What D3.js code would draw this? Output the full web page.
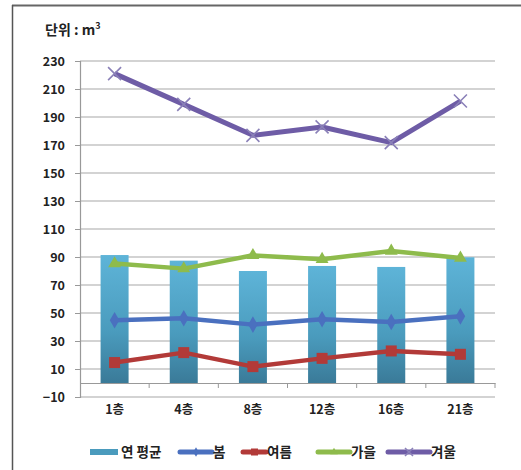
<!DOCTYPE html>
<html><head><meta charset="utf-8">
<script src="https://cdn.jsdelivr.net/npm/d3@7"></script>
<style>
body{margin:0;background:#fff;}
text{font-family:"Noto Sans CJK KR","Noto Sans",sans-serif;font-weight:700;fill:#222;}
</style></head>
<body><svg id="c" width="521" height="470"></svg>
<script>
const categories = ["1층","4층","8층","12층","16층","21층"];
const annualAvg = [91.4, 87.4, 80.0, 83.6, 82.9, 89.8];
const spring = [44.8, 46.2, 41.7, 45.5, 43.6, 47.6];
const summer = [14.6, 21.7, 11.7, 17.6, 22.9, 20.5];
const autumn = [85.3, 81.7, 91.2, 88.4, 94.3, 89.3];
const winter = [221.0, 199.0, 176.9, 182.9, 171.7, 201.4];
const yTicks = [-10,10,30,50,70,90,110,130,150,170,190,210,230];
const seriesNames = ["연 평균","봄","여름","가을","겨울"];

(function(){
const svg = d3.select("#c");
const W=521,H=470;
svg.append("line").attr("x1",12).attr("x2",W).attr("y1",5.5).attr("y2",5.5).attr("stroke","#666").attr("stroke-width",2);
svg.append("line").attr("x1",12.5).attr("x2",12.5).attr("y1",5).attr("y2",H).attr("stroke","#555").attr("stroke-width",1.5);

const pl=80,pr=495,pt=61,pb=397;
const x = d3.scaleBand().domain(categories).range([pl,pr]);
const y = d3.scaleLinear().domain([-10,230]).range([pb,pt]);

const defs = svg.append("defs");
const g1 = defs.append("linearGradient").attr("id","barg").attr("x1",0).attr("x2",0).attr("y1",0).attr("y2",1);
g1.append("stop").attr("offset","0%").attr("stop-color","#5eb4d8");
g1.append("stop").attr("offset","60%").attr("stop-color","#4a9bbd");
g1.append("stop").attr("offset","100%").attr("stop-color","#3a7a98");

svg.append("text").attr("x",45).attr("y",35).attr("font-size",14).attr("xml:space","preserve").text("단위 : m").append("tspan").attr("dy",-6).attr("font-size",9).text("3");

svg.append("g").selectAll("line").data(yTicks).join("line")
  .attr("x1",pl).attr("x2",pr).attr("y1",d=>y(d)).attr("y2",d=>y(d))
  .attr("stroke","#a8a8a8").attr("stroke-width",1.2);

const ya = svg.append("g").attr("transform",`translate(${pl},0)`)
  .call(d3.axisLeft(y).tickValues(yTicks).tickSize(5).tickPadding(10));
ya.attr("font-family",null).attr("font-size",null);
ya.select(".domain").attr("stroke","#999").attr("stroke-width",1.2);
ya.selectAll(".tick line").attr("stroke","#999");
ya.selectAll(".tick text").attr("font-size",12.5).attr("fill","#222");

svg.append("g").selectAll("rect").data(annualAvg).join("rect")
  .attr("x",(d,i)=>x(categories[i])+x.bandwidth()/2-14)
  .attr("width",28)
  .attr("y",d=>y(d)).attr("height",d=>y(0)-y(d))
  .attr("fill","url(#barg)");

const xa = svg.append("g").attr("transform",`translate(0,${y(0)})`)
  .call(d3.axisBottom(x).tickSize(0).tickPadding(0).tickFormat(""));
xa.select(".domain").attr("stroke","#999").attr("stroke-width",1.2);
xa.selectAll(".tick").remove();
const bounds = categories.slice(1).map(c=>x(c)).concat([pr]);
svg.append("g").selectAll("line").data(bounds).join("line")
  .attr("x1",d=>d).attr("x2",d=>d).attr("y1",y(0)).attr("y2",y(0)+5).attr("stroke","#999");
svg.append("g").selectAll("text").data(categories).join("text")
  .attr("x",d=>x(d)+x.bandwidth()/2).attr("y",414).attr("text-anchor","middle").attr("font-size",12.5).text(d=>d);

const cx = i => x(categories[i])+x.bandwidth()/2;
const line = d3.line().x((d,i)=>cx(i)).y(d=>y(d));
const series = [
  {name:"봄",data:spring,color:"#4a70bf",marker:"diamond"},
  {name:"여름",data:summer,color:"#b23a38",marker:"square"},
  {name:"가을",data:autumn,color:"#8ebb4c",marker:"triangle"},
  {name:"겨울",data:winter,color:"#6e5ca6",marker:"x"}
];
function drawMarker(g,type,color,size){
  if(type==="diamond"){
    g.append("path").attr("d",d3.symbol(d3.symbolDiamond,size*size*0.55)()).attr("fill",color);
  } else if(type==="square"){
    g.append("rect").attr("x",-size/2).attr("y",-size/2).attr("width",size).attr("height",size).attr("fill",color);
  } else if(type==="triangle"){
    g.append("path").attr("d",d3.symbol(d3.symbolTriangle,size*size*0.5)()).attr("fill",color);
  } else {
    const s=size/2;
    g.append("path").attr("d",`M${-s},${-s}L${s},${s}M${-s},${s}L${s},${-s}`).attr("stroke","#8a80b8").attr("stroke-width",1.6);
  }
}
series.forEach(s=>{
  svg.append("path").datum(s.data).attr("d",line).attr("fill","none")
    .attr("stroke",s.color).attr("stroke-width",s.marker==="x"?5:4.5).attr("stroke-linejoin","round");
  s.data.forEach((v,i)=>{
    const g=svg.append("g").attr("transform",`translate(${cx(i)},${y(v)})`);
    drawMarker(g,s.marker,s.color,s.marker==="square"?11:(s.marker==="x"?13:12));
  });
});

const ly=452;
svg.append("rect").attr("x",90).attr("y",ly-3).attr("width",28).attr("height",6).attr("fill","#4a9bbd");
svg.append("text").attr("x",121).attr("y",ly+5).attr("font-size",13.5).text(seriesNames[0]);
const legPos=[[180,212],[243,266],[318,350],[388,430]];
series.forEach((s,i)=>{
  const [a,b]=legPos[i];
  svg.append("line").attr("x1",a).attr("x2",b).attr("y1",ly).attr("y2",ly).attr("stroke",s.color).attr("stroke-width",5).attr("stroke-linecap","round");
  const g=svg.append("g").attr("transform",`translate(${(a+b)/2},${ly})`);
  drawMarker(g,s.marker,s.color,s.marker==="x"?8:7);
  svg.append("text").attr("x",b+1).attr("y",ly+5).attr("font-size",13.5).text(s.name);
});
})();
</script></body></html>
